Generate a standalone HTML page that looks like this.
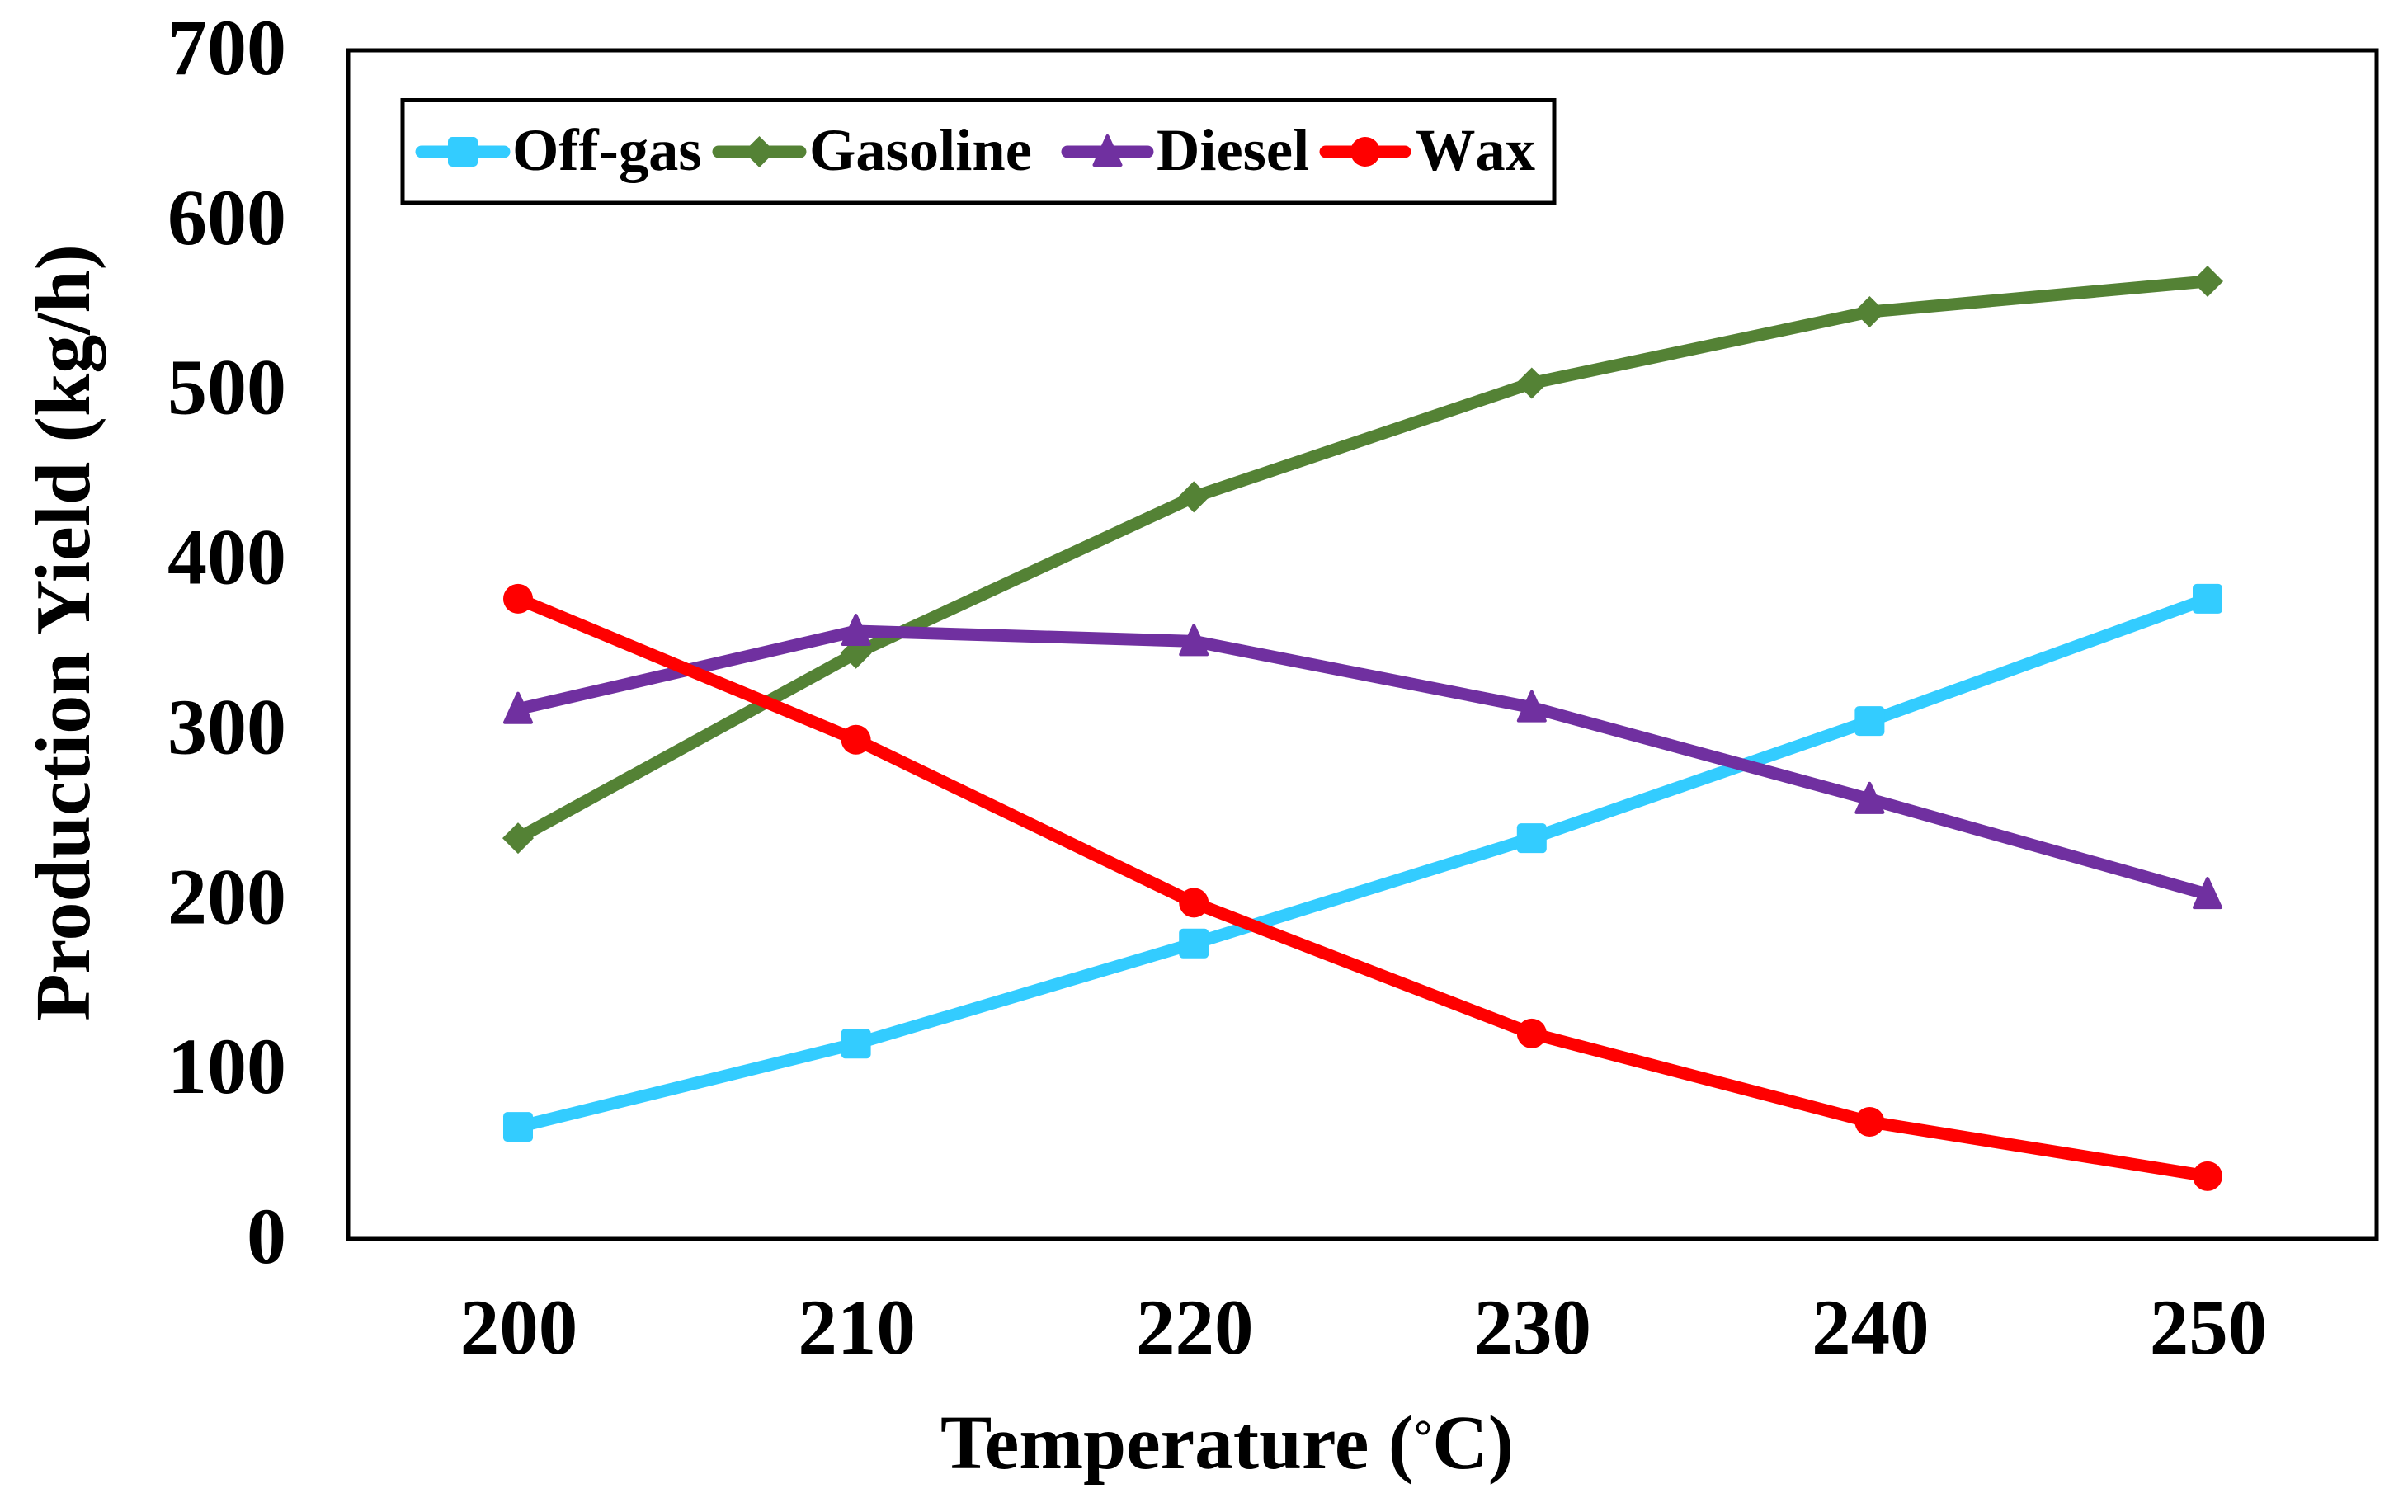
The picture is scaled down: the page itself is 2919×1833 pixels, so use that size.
<!DOCTYPE html>
<html lang="en">
<head>
<meta charset="utf-8">
<title>Production Yield vs Temperature</title>
<style>
html,body{margin:0;padding:0;background:#fff;}
svg{display:block;}
text{font-family:"Liberation Serif",serif;font-weight:bold;fill:#000;}
</style>
</head>
<body>
<svg id="chart" xmlns="http://www.w3.org/2000/svg" width="2919" height="1833" viewBox="0 0 2919 1833"></svg>
<script>
const categories = [200, 210, 220, 230, 240, 250];
const yTicks = [0, 100, 200, 300, 400, 500, 600, 700];
const offGas = [66, 115, 174, 236, 305, 377];
const gasoline = [236, 345, 437, 504, 546, 564];
const diesel = [312, 358, 352, 313, 259, 203];
const wax = [377, 294, 198, 121, 69, 37];
const seriesNames = ['Off-gas', 'Gasoline', 'Diesel', 'Wax'];

const NS = 'http://www.w3.org/2000/svg';
const svg = document.getElementById('chart');
const frame = {left: 422, right: 2881, top: 61, bottom: 1502};
const firstX = 628, stepX = 409.6;

function xScale(i) { return firstX + stepX * i; }
function yScale(v) { return frame.bottom - (v / 700) * (frame.bottom - frame.top); }

function make(tag, attrs, parent) {
  const el = document.createElementNS(NS, tag);
  for (const k in attrs) el.setAttribute(k, attrs[k]);
  (parent || svg).appendChild(el);
  return el;
}

function drawMarker(kind, cx, cy, color, parent) {
  let el;
  if (kind === 'square') {
    el = make('rect', {x: cx - 18, y: cy - 18, width: 36, height: 36, rx: 5, fill: color}, parent);
  } else if (kind === 'diamond') {
    el = make('polygon', {points: [cx, cy - 19, cx + 19, cy, cx, cy + 19, cx - 19, cy].join(','), fill: color}, parent);
  } else if (kind === 'triangle') {
    el = make('polygon', {points: [cx, cy - 19, cx + 16, cy + 16, cx - 16, cy + 16].join(','), fill: color, stroke: color, 'stroke-width': 4, 'stroke-linejoin': 'round'}, parent);
  } else {
    el = make('circle', {cx: cx, cy: cy, r: 18, fill: color}, parent);
  }
  return el;
}

const plotFrame = make('rect', {x: frame.left, y: frame.top, width: frame.right - frame.left, height: frame.bottom - frame.top, fill: 'none', stroke: '#000', 'stroke-width': 5});



yTicks.forEach(function (t) {
  const lab = make('text', {x: 347, y: yScale(t) + 29, 'text-anchor': 'end', 'font-size': 96});
  lab.textContent = String(t);
  
  
});

categories.forEach(function (c, i) {
  const lab = make('text', {x: xScale(i) + 1, y: 1641, 'text-anchor': 'middle', 'font-size': 95});
  lab.textContent = String(c);
  
  
});

const xTitle = make('text', {x: 1140, y: 1780, 'font-size': 93.5});


const xTitleStart = make('tspan', {}, xTitle);
xTitleStart.textContent = 'Temperature (';
const xTitleDeg = make('tspan', {'font-size': 56, dy: -20}, xTitle);
xTitleDeg.textContent = '°';
const xTitleEnd = make('tspan', {dy: 20}, xTitle);
xTitleEnd.textContent = 'C)';

const yTitle = make('text', {transform: 'translate(108,767) rotate(-90)', 'text-anchor': 'middle', 'font-size': 94});
yTitle.textContent = 'Production Yield (kg/h)';



function drawSeries(values, color, kind, name) {
  const g = make('g', {});
  
  
  const pts = values.map(function (v, i) { return xScale(i) + ',' + yScale(v); }).join(' ');
  const line = make('polyline', {points: pts, fill: 'none', stroke: color, 'stroke-width': 15, 'stroke-linejoin': 'round', 'stroke-linecap': 'round'}, g);
  
  
  values.forEach(function (v, i) {
    const m = drawMarker(kind, xScale(i), yScale(v), color, g);
    
    
  });
}

drawSeries(offGas, '#33CCFF', 'square', 'off-gas');
drawSeries(gasoline, '#548235', 'diamond', 'gasoline');
drawSeries(diesel, '#7030A0', 'triangle', 'diesel');
drawSeries(wax, '#FF0000', 'circle', 'wax');

const legend = make('g', {});


const legendBox = make('rect', {x: 488, y: 121.5, width: 1396, height: 124.5, fill: '#fff', stroke: '#000', 'stroke-width': 5}, legend);



const legendColors = ['#33CCFF', '#548235', '#7030A0', '#FF0000'];
const legendKinds = ['square', 'diamond', 'triangle', 'circle'];
const legendLineStart = [511, 871, 1294, 1607];
const legendLineEnd = [611, 970, 1391, 1703];
const legendTextX = [621, 981, 1402, 1716];

seriesNames.forEach(function (s, i) {
  const ln = make('line', {x1: legendLineStart[i], x2: legendLineEnd[i], y1: 184, y2: 184, stroke: legendColors[i], 'stroke-width': 15, 'stroke-linecap': 'round'}, legend);
  
  
  const mk = drawMarker(legendKinds[i], (legendLineStart[i] + legendLineEnd[i]) / 2, 184, legendColors[i], legend);
  
  
  const tx = make('text', {x: legendTextX[i], y: 206, 'font-size': 72.5, style: 'font-kerning:none'}, legend);
  tx.textContent = s;
  
  
});
</script>
</body>
</html>
